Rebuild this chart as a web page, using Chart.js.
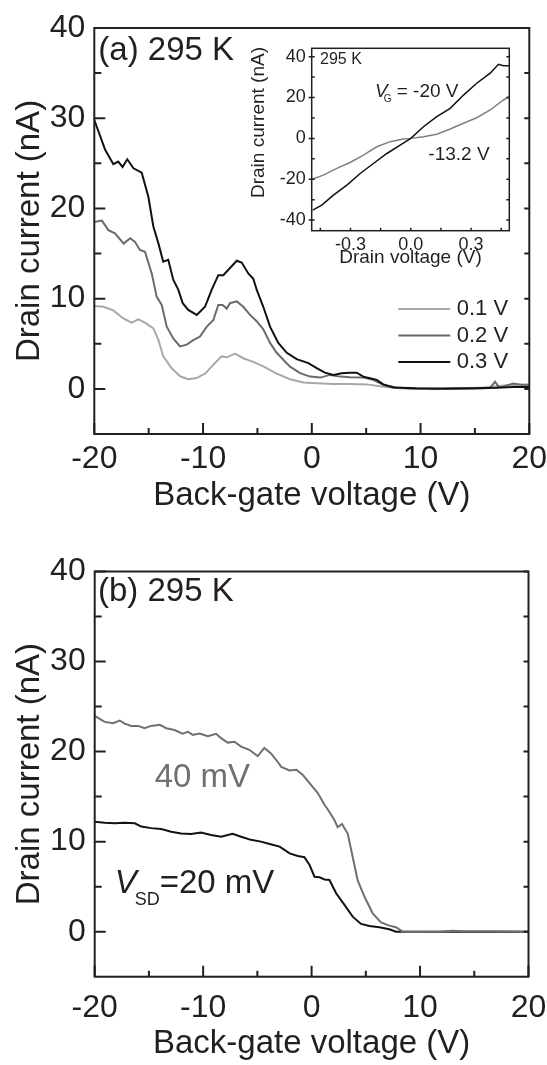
<!DOCTYPE html>
<html>
<head>
<meta charset="utf-8">
<title>Drain current vs back-gate voltage</title>
<script src="https://cdn.jsdelivr.net/npm/chart.js@4.4.0/dist/chart.umd.min.js"></script>
<style>
body{margin:0;background:#fff;}
#wrap{position:relative;width:547px;height:1065px;}
canvas{position:absolute;}
#chartA{left:0;top:0;}
#inset{left:240px;top:38px;}
#chartB{left:0;top:530px;}
</style>
</head>
<body>
<div id="wrap">
<canvas id="chartA" width="547" height="530"></canvas>
<canvas id="inset" width="275" height="240"></canvas>
<canvas id="chartB" width="547" height="535"></canvas>
</div>
<script>
// ---- panel (a): drain current vs back-gate voltage, three drain voltages
var labelsA = ['0.3 V', '0.2 V', '0.1 V'];
var gateA03 = [-20, -19.0, -18.25, -17.8, -17.4, -16.97, -16.4, -15.64, -15.03, -14.57, -14.1, -13.66, -13.2, -12.74, -12.28, -11.87, -11.36, -10.58, -9.82, -9.2, -8.6, -8.14, -7.52, -6.9, -6.45, -5.84, -5.38, -5.07, -4.46, -3.84, -3.08, -2.3, -1.39, -0.32, 0.45, 1.2, 1.98, 2.75, 3.5, 4.13, 4.74, 5.35, 5.97, 6.57, 7.5, 9.6, 12, 15, 17, 18.5, 20];
var currA03 = [29.8, 26.5, 24.9, 25.2, 24.6, 25.45, 24.45, 23.97, 21.3, 18.0, 16.1, 14.1, 14.3, 12.1, 11.0, 9.5, 8.75, 8.2, 9.1, 11.0, 12.6, 12.6, 13.4, 14.2, 14.0, 12.8, 12.2, 11.0, 9.1, 6.9, 5.1, 4.0, 3.3, 2.85, 2.3, 1.8, 1.55, 1.74, 1.8, 1.8, 1.36, 1.18, 1.0, 0.5, 0.15, 0.07, 0.05, 0.08, 0.12, 0.2, 0.2];
var gateA02 = [-20, -19.3, -18.7, -18.1, -17.3, -16.7, -16.26, -15.8, -15.34, -14.72, -14.26, -13.8, -13.34, -12.74, -12.12, -11.5, -10.9, -10.28, -9.66, -9.06, -8.6, -8.2, -7.83, -7.52, -6.9, -6.3, -5.68, -5.07, -4.46, -3.84, -3.23, -2.6, -2.0, -1.08, -0.16, 0.76, 1.68, 2.6, 3.5, 4.74, 5.66, 6.57, 7.8, 9, 12, 15, 16.4, 16.85, 17.2, 17.6, 18.5, 19.3, 20];
var currA02 = [18.5, 18.65, 17.6, 17.25, 16.1, 16.7, 16.3, 15.4, 15.2, 12.8, 10.2, 9.3, 6.9, 5.6, 4.7, 4.9, 5.4, 5.8, 6.9, 7.6, 9.3, 9.3, 8.9, 9.5, 9.7, 9.1, 8.2, 7.5, 6.6, 5.1, 4.0, 3.2, 2.47, 1.74, 1.36, 1.25, 1.55, 1.36, 1.29, 1.25, 1.0, 0.44, 0.15, 0.05, 0.0, 0.05, 0.1, 0.8, 0.2, 0.25, 0.6, 0.45, 0.5];
var gateA01 = [-20, -19.17, -18.25, -17.33, -16.56, -15.95, -15.34, -14.57, -14.1, -13.66, -12.9, -12.1, -11.36, -10.6, -9.8, -9.06, -8.3, -7.8, -7.06, -6.3, -5.38, -4.46, -3.23, -2.0, -0.78, 0.45, 1.98, 3.5, 5.05, 6.57, 8.1, 11.2, 15.8, 18.2, 20];
var currA01 = [9.2, 9.1, 8.7, 7.8, 7.35, 7.7, 7.35, 6.7, 5.4, 3.6, 2.3, 1.4, 1.07, 1.2, 1.7, 2.66, 3.6, 3.5, 3.9, 3.4, 3.0, 2.5, 1.7, 1.07, 0.7, 0.63, 0.55, 0.55, 0.5, 0.25, 0.07, -0.03, 0.15, 0.44, 0.44];

// ---- inset: drain current vs drain voltage
var labelsIn = ['-20 V', '-13.2 V'];
var drainIn20 = [-0.488, -0.443, -0.385, -0.318, -0.252, -0.186, -0.119, -0.053, 0, 0.063, 0.129, 0.196, 0.262, 0.328, 0.395, 0.436, 0.461, 0.49];
var currIn20 = [-35.1, -32.7, -27.8, -22.9, -17.2, -12.3, -7.4, -3.3, 0, 5.7, 10.6, 14.7, 21.2, 27, 31.9, 36.3, 35.6, 35.6];
var drainIn13 = [-0.488, -0.435, -0.368, -0.302, -0.236, -0.169, -0.103, -0.037, 0, 0.063, 0.129, 0.196, 0.262, 0.328, 0.395, 0.461, 0.49];
var currIn13 = [-19.9, -18, -14.7, -11.8, -8.2, -4.1, -1.6, -0.3, 0, 0.8, 2, 4.6, 7.4, 10.1, 13.9, 18.8, 20.4];

// ---- panel (b): two source-drain voltages
var labelsB = ['40 mV', '20 mV'];
var gateB40 = [-20, -19.08, -18.3, -17.7, -17.24, -16.63, -16.0, -15.4, -14.8, -14.0, -13.4, -12.64, -11.9, -11.4, -10.96, -10.34, -9.57, -8.8, -8.35, -7.74, -7.12, -6.5, -5.74, -4.97, -4.36, -3.75, -3.14, -2.8, -2.03, -1.4, -0.8, -0.19, 0.57, 1.19, 1.65, 2.1, 2.4, 2.8, 3.33, 3.79, 4.25, 4.87, 5.63, 6.4, 7.17, 7.78, 8.39, 10, 12, 13, 14, 17, 20];
var currB40 = [23.97, 23.3, 23.15, 23.45, 23.1, 22.85, 22.85, 22.6, 22.85, 22.97, 22.6, 22.4, 22.0, 22.2, 21.85, 22.0, 21.7, 21.97, 21.5, 21.0, 21.1, 20.55, 20.2, 19.5, 20.4, 19.8, 18.9, 18.3, 17.9, 17.97, 17.4, 16.5, 15.4, 14.1, 13.3, 12.4, 11.6, 11.97, 10.9, 8.3, 5.7, 3.9, 2.04, 1.04, 0.67, 0.49, 0.0, 0.0, 0.02, 0.1, 0.05, 0.05, 0.0];
var gateB20 = [-20, -19.08, -18.16, -17.24, -16.3, -15.7, -14.8, -13.87, -12.95, -12.03, -11.1, -10.2, -9.27, -8.35, -7.28, -6.5, -5.6, -4.67, -3.87, -2.95, -2.5, -2.03, -1.27, -0.66, -0.19, 0.27, 0.73, 1.19, 1.65, 2.26, 3.03, 3.79, 4.56, 5.33, 6.25, 7.17, 7.78, 10, 15, 20];
var currB20 = [12.2, 12.1, 12.04, 12.1, 12.04, 11.67, 11.5, 11.4, 11.1, 10.9, 10.86, 11.0, 10.74, 10.55, 10.86, 10.55, 10.2, 10.0, 9.74, 9.45, 9.08, 8.7, 8.4, 8.27, 7.4, 6.1, 6.04, 5.8, 5.74, 4.27, 2.97, 1.67, 0.86, 0.63, 0.49, 0.27, 0.0, 0, 0, 0];

// ---- ticks
var gateTicks = [-20, -10, 0, 10, 20];
var gateMinor = [-15, -5, 5, 15];
var currTicks = [0, 10, 20, 30, 40];
var currMinor = [5, 15, 25, 35];
var inVTicks = [-0.3, 0, 0.3];
var inVMinor = [-0.45, -0.15, 0.15, 0.45];
var inITicks = [-40, -20, 0, 20, 40];
var inIMinor = [-30, -10, 10, 30];

var FONT = '"Liberation Sans", Arial, Helvetica, sans-serif';
var INK = '#231f20';

function pts(xs, ys) {
  return xs.map(function (x, i) { return {x: x, y: ys[i]}; });
}
function line(label, xs, ys, color, w) {
  return {label: label, data: pts(xs, ys), borderColor: color, borderWidth: w,
    pointRadius: 0, tension: 0, fill: false};
}
function fixTicks(list) {
  return function (axis) { axis.ticks = list.map(function (v) { return {value: v}; }); };
}

// box around the plot, with tick marks drawn inside
var framePlugin = {
  id: 'frame',
  afterDatasetsDraw: function (chart, args, opts) {
    var ctx = chart.ctx, a = chart.chartArea;
    var xs = chart.scales.x, ys = chart.scales.y;
    ctx.save();
    ctx.strokeStyle = INK;
    ctx.lineWidth = opts.width;
    ctx.strokeRect(a.left, a.top, a.right - a.left, a.bottom - a.top);
    ctx.beginPath();
    opts.marks.forEach(function (m) {
      m.values.forEach(function (v) {
        if (m.side === 'bottom') {
          var px = xs.getPixelForValue(v);
          ctx.moveTo(px, a.bottom);
          ctx.lineTo(px, a.bottom - m.len);
        } else {
          var py = ys.getPixelForValue(v);
          var x0 = m.side === 'left' ? a.left : a.right;
          var dir = m.side === 'left' ? 1 : -1;
          ctx.moveTo(x0, py);
          ctx.lineTo(x0 + dir * m.len, py);
        }
      });
    });
    ctx.stroke();
    ctx.restore();
  }
};

// free text inside the plot; each item is a list of parts written one after another
var notesPlugin = {
  id: 'notes',
  afterDraw: function (chart, args, opts) {
    var ctx = chart.ctx, a = chart.chartArea;
    ctx.save();
    opts.items.forEach(function (it) {
      ctx.fillStyle = it.color || INK;
      if (it.rotate) {
        ctx.save();
        ctx.translate(a.left + it.x, a.top + it.y);
        ctx.rotate(it.rotate);
        ctx.font = it.parts[0].font;
        ctx.textAlign = 'center';
        ctx.textBaseline = 'middle';
        ctx.fillText(it.parts[0].t, 0, 0);
        ctx.restore();
        return;
      }
      var x = a.left + it.x;
      ctx.textAlign = 'left';
      ctx.textBaseline = 'alphabetic';
      it.parts.forEach(function (p) {
        ctx.font = p.font;
        x += p.dx || 0;
        ctx.fillText(p.t, x, a.top + it.y + (p.dy || 0));
        x += ctx.measureText(p.t).width;
      });
    });
    ctx.restore();
  }
};

// legend for panel (a), drawn inside the plot
var keyPlugin = {
  id: 'key',
  afterDraw: function (chart, args, opts) {
    var ctx = chart.ctx, a = chart.chartArea;
    var sets = chart.data.datasets.slice().reverse();
    ctx.save();
    ctx.font = opts.font;
    ctx.textBaseline = 'middle';
    sets.forEach(function (ds, i) {
      var y = a.top + opts.top + i * opts.step;
      ctx.strokeStyle = ds.borderColor;
      ctx.lineWidth = ds.borderWidth;
      ctx.beginPath();
      ctx.moveTo(a.right - opts.lineFrom, y);
      ctx.lineTo(a.right - opts.lineTo, y);
      ctx.stroke();
      ctx.fillStyle = INK;
      ctx.fillText(ds.label, a.right - opts.textAt, y);
    });
    ctx.restore();
  }
};

function mainOptions(cfg) {
  return {
    responsive: false,
    animation: false,
    layout: {padding: {left: 0, top: cfg.top, right: cfg.right, bottom: 0}},
    plugins: {
      legend: {display: false},
      tooltip: {enabled: false},
      frame: {width: 2, marks: [
        {side: 'left', values: currTicks, len: 11},
        {side: 'left', values: currMinor, len: 7},
        {side: 'right', values: currTicks.concat(currMinor), len: 5},
        {side: 'bottom', values: gateTicks, len: 11},
        {side: 'bottom', values: gateMinor, len: 6}
      ]},
      notes: {items: cfg.notes},
      key: cfg.key || false
    },
    scales: {
      x: {
        type: 'linear', min: -20, max: 20,
        grid: {display: false, drawTicks: false}, border: {display: false},
        afterBuildTicks: fixTicks(gateTicks),
        ticks: {font: {family: FONT, size: 32}, color: INK, padding: cfg.tickPad, maxRotation: 0, autoSkip: false},
        title: {display: true, text: 'Back-gate voltage (V)', color: INK,
          font: {family: FONT, size: 33}, padding: {top: 0, bottom: cfg.titlePad}},
        afterFit: function (s) { s.height = cfg.xHeight; s.paddingLeft = 0; s.paddingRight = 0; }
      },
      y: {
        type: 'linear', min: -5, max: 40,
        grid: {display: false, drawTicks: false}, border: {display: false},
        afterBuildTicks: fixTicks(currTicks),
        ticks: {font: {family: FONT, size: 32}, color: INK, padding: 9},
        title: {display: true, text: 'Drain current (nA)', color: INK,
          font: {family: FONT, size: 33}, padding: {top: 10, bottom: 0}},
        afterFit: function (s) { s.width = cfg.yWidth; s.paddingTop = 0; s.paddingBottom = 0; }
      }
    }
  };
}

var big = '33px ' + FONT;

new Chart(document.getElementById('chartA'), {
  type: 'line',
  data: {datasets: [
    line(labelsA[0], gateA03, currA03, '#111111', 2),
    line(labelsA[1], gateA02, currA02, '#6b6b6b', 2),
    line(labelsA[2], gateA01, currA01, '#a8a8a8', 2)
  ]},
  options: mainOptions({
    top: 28, right: 17.7, yWidth: 94.3, xHeight: 96, titlePad: 14, tickPad: 6,
    notes: [{x: 4, y: 32, parts: [{t: '(a) 295 K', font: big}]}],
    key: {font: '22px ' + FONT, top: 281, step: 26.5, lineFrom: 131, lineTo: 79, textAt: 72.6}
  }),
  plugins: [framePlugin, notesPlugin, keyPlugin]
});

new Chart(document.getElementById('chartB'), {
  type: 'line',
  data: {datasets: [
    line(labelsB[0], gateB40, currB40, '#707070', 2),
    line(labelsB[1], gateB20, currB20, '#111111', 2)
  ]},
  options: mainOptions({
    top: 41.5, right: 18.5, yWidth: 94.7, xHeight: 88.3, titlePad: 1.5, tickPad: 12,
    notes: [
      {x: 3.3, y: 29, parts: [{t: '(b) 295 K', font: big}]},
      {x: 60, y: 215.8, color: '#707070', parts: [{t: '40 mV', font: big}]},
      {x: 20, y: 321.8, parts: [
        {t: 'V', font: 'italic ' + big},
        {t: 'SD', font: '18px ' + FONT, dy: 12, dx: -2},
        {t: '=20 mV', font: big}
      ]}
    ]
  }),
  plugins: [framePlugin, notesPlugin]
});

var small = '19px ' + FONT;
new Chart(document.getElementById('inset'), {
  type: 'line',
  data: {datasets: [
    line(labelsIn[0], drainIn20, currIn20, '#111111', 1.5),
    line(labelsIn[1], drainIn13, currIn13, '#808080', 1.5)
  ]},
  options: {
    responsive: false,
    animation: false,
    layout: {padding: {left: 0, top: 10.3, right: 5.7, bottom: 0}},
    plugins: {
      legend: {display: false},
      tooltip: {enabled: false},
      frame: {width: 1.5, marks: [
        {side: 'left', values: inITicks.concat(inIMinor), len: 3},
        {side: 'left', values: inITicks, len: -3},
        {side: 'right', values: inITicks.concat(inIMinor), len: 3},
        {side: 'bottom', values: inVTicks.concat(inVMinor), len: 3}
      ]},
      notes: {items: [
        {x: 8.3, y: 16, parts: [{t: '295 K', font: '16px ' + FONT}]},
        {x: 63.3, y: 48.4, parts: [
          {t: 'V', font: 'italic ' + small},
          {t: 'G', font: '10px ' + FONT, dy: 5, dx: -4},
          {t: ' = -20 V', font: small}
        ]},
        {x: 116.6, y: 111.7, parts: [{t: '-13.2 V', font: small}]},
        {x: -53.4, y: 74.2, rotate: -Math.PI / 2, parts: [{t: 'Drain current (nA)', font: small}]}
      ]}
    },
    scales: {
      x: {
        type: 'linear', min: -0.493, max: 0.49,
        grid: {display: false, drawTicks: false}, border: {display: false},
        afterBuildTicks: fixTicks(inVTicks),
        ticks: {font: {family: FONT, size: 18}, color: INK, padding: 4, maxRotation: 0, autoSkip: false,
          callback: function (v) { return v.toFixed(1); }},
        title: {display: true, text: 'Drain voltage (V)', color: INK,
          font: {family: FONT, size: 19}, padding: {top: 0, bottom: 9}},
        afterFit: function (s) { s.height = 47.3; s.paddingLeft = 0; s.paddingRight = 0; }
      },
      y: {
        type: 'linear', min: -45.2, max: 44.1,
        grid: {display: false, drawTicks: false}, border: {display: false},
        afterBuildTicks: fixTicks(inITicks),
        ticks: {font: {family: FONT, size: 18}, color: INK, padding: 6},
        afterFit: function (s) { s.width = 71.7; s.paddingTop = 0; s.paddingBottom = 0; }
      }
    }
  },
  plugins: [framePlugin, notesPlugin]
});
</script>
</body>
</html>
